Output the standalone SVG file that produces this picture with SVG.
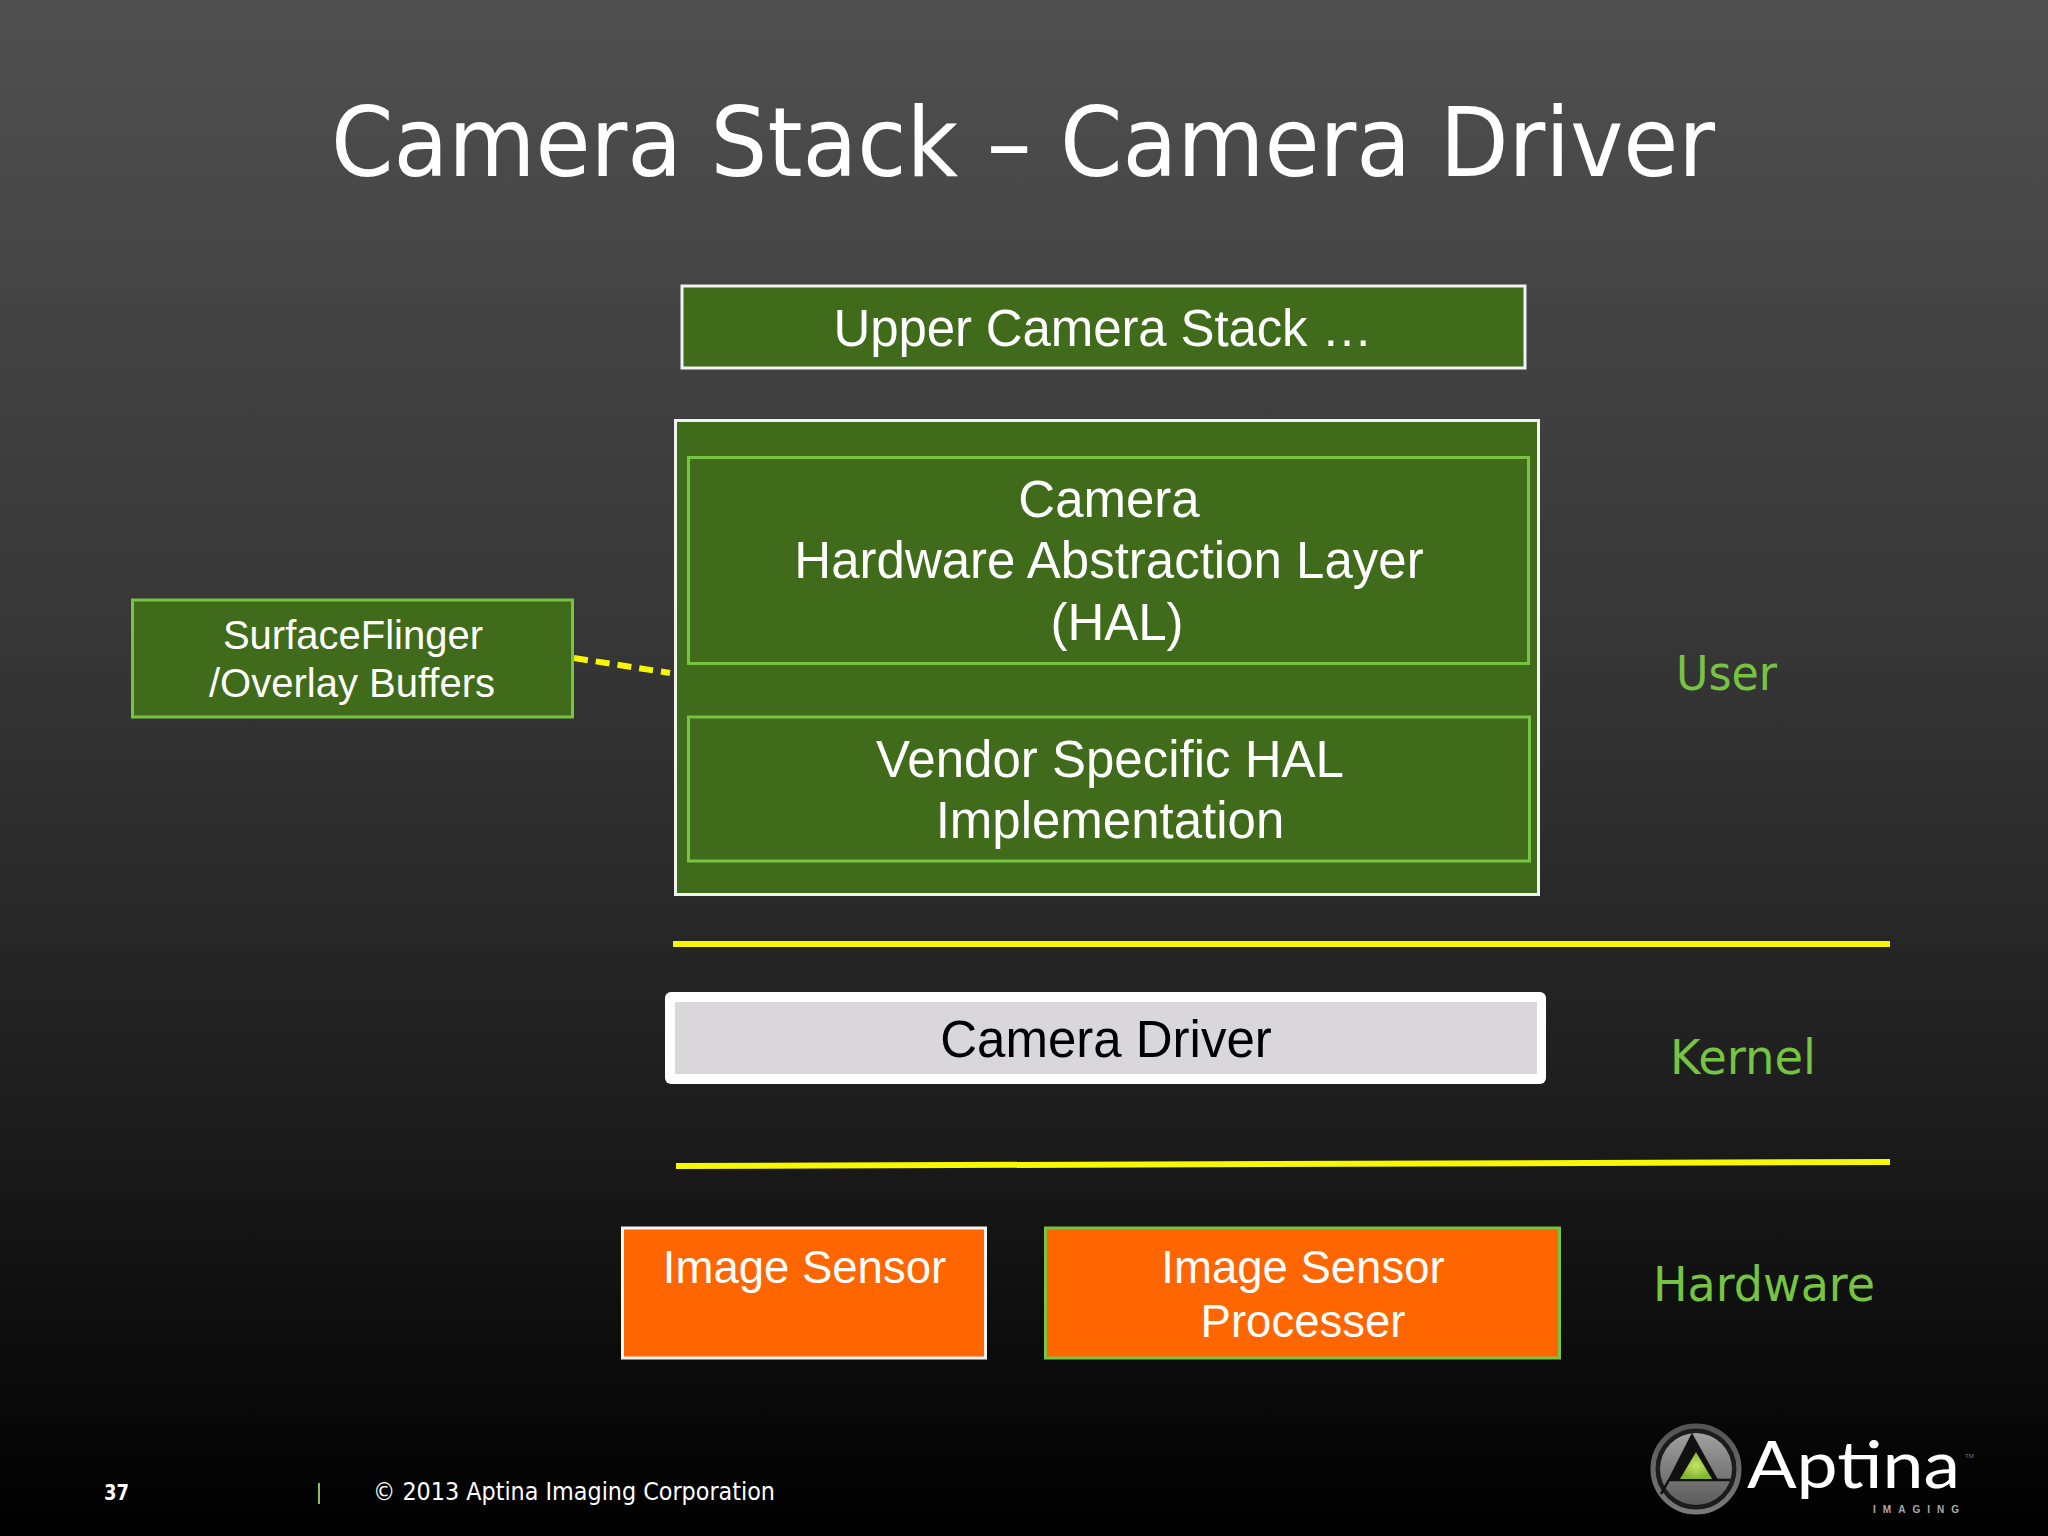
<svg xmlns="http://www.w3.org/2000/svg" width="2048" height="1536" viewBox="0 0 2048 1536">
<style>
.a{font-family:"Liberation Sans",Arial,sans-serif;fill:#fff;text-anchor:middle}
.t{font-family:"DejaVu Sans",Verdana,sans-serif}
.g{fill:#3f6b1a;stroke:#76c442;stroke-width:3}
.w{fill:#3f6b1a;stroke:#f2f2f2;stroke-width:3}
.o{fill:#ff6600;stroke-width:3}
.l{font-family:"DejaVu Sans",Verdana,sans-serif;fill:#76c442;font-size:48px}
.y{fill:none;stroke:#f7f700;stroke-width:6}
.m{font-size:51px}
.s{font-size:40px}
.i{font-size:45.500px}
</style>
<defs>
<linearGradient id="bg" x1="0" y1="0" x2="0" y2="1"><stop offset="0" stop-color="#505050"/><stop offset=".45" stop-color="#343434"/><stop offset=".7" stop-color="#1f1f1f"/><stop offset="1" stop-color="#000"/></linearGradient>
<linearGradient id="ring" x1="0" y1="0" x2="0" y2="1"><stop offset="0" stop-color="#555"/><stop offset="1" stop-color="#7a7a7a"/></linearGradient>
<linearGradient id="blade" x1="0" y1="0" x2="0" y2="1"><stop offset="0" stop-color="#a0a0a0"/><stop offset="1" stop-color="#5c5c5c"/></linearGradient>
<radialGradient id="tri"><stop offset="0" stop-color="#c4e56a"/><stop offset="1" stop-color="#83b52e"/></radialGradient>
</defs>
<rect width="2048" height="1536" fill="url(#bg)"/>
<text id="title" class="t" x="331" y="176" fill="#fff" font-size="96" textLength="1384" lengthAdjust="spacingAndGlyphs">Camera Stack – Camera Driver</text>
<g id="connectors">
<path class="y" d="M673 944H1890"/>
<path class="y" d="M676 1166L1890 1162"/>
<path class="y" d="M574 658L670 673" stroke-dasharray="14 8"/>
</g>
<g id="upper"><rect class="w" x="682" y="286" width="843" height="82"/><text class="a m" x="1103" y="346" textLength="539">Upper Camera Stack …</text></g>
<g id="hal-box"><rect class="w" x="675.500" y="420.500" width="863" height="474"/></g>
<g id="hal"><rect class="g" x="688.500" y="457.500" width="840" height="206"/>
<text class="a m" x="1109" y="517">Camera</text><text class="a m" x="1109" y="578">Hardware Abstraction Layer</text><text class="a m" x="1117" y="640">(HAL)</text></g>
<g id="vendor"><rect class="g" x="688.500" y="717" width="841" height="144"/>
<text class="a m" x="1110" y="777">Vendor Specific HAL</text><text class="a m" x="1110" y="838">Implementation</text></g>
<g id="surfaceflinger"><rect class="g" x="132.500" y="600" width="440" height="117"/>
<text class="a s" x="353" y="649">SurfaceFlinger</text><text class="a s" x="352" y="697">/Overlay Buffers</text></g>
<g id="driver"><rect x="665" y="992" width="881" height="92" rx="6" fill="#fff"/><rect x="675" y="1002" width="862" height="72" fill="#d9d7da"/>
<text class="a m" x="1106" y="1057" style="fill:#000">Camera Driver</text></g>
<g id="sensor"><rect class="o" stroke="#f4f4f4" x="622.500" y="1228" width="363" height="130"/><text class="a i" x="804.500" y="1283">Image Sensor</text></g>
<g id="isp"><rect class="o" stroke="#76c442" x="1045.500" y="1228" width="514" height="130"/><text class="a i" x="1303" y="1283">Image Sensor</text><text class="a i" x="1303" y="1337">Processer</text></g>
<g id="layers">
<text class="l" x="1676" y="690" textLength="101" lengthAdjust="spacingAndGlyphs">User</text>
<text class="l" x="1670" y="1074" textLength="146" lengthAdjust="spacingAndGlyphs">Kernel</text>
<text class="l" x="1653" y="1301" textLength="222" lengthAdjust="spacingAndGlyphs">Hardware</text>
</g>
<g id="footer">
<text x="104" y="1500" fill="#fff" font-family="DejaVu Sans,sans-serif" font-weight="700" font-size="21" textLength="25" lengthAdjust="spacingAndGlyphs">37</text>
<path d="M319 1483V1504" stroke="#8fbf4f" stroke-width="2"/>
<text x="373" y="1500" fill="#fff" font-family="DejaVu Sans,sans-serif" font-size="24" textLength="402" lengthAdjust="spacingAndGlyphs">© 2013 Aptina Imaging Corporation</text>
</g>
<g id="logo">
<circle cx="1696" cy="1469" r="43" fill="#1c1c1c" stroke="url(#ring)" stroke-width="5"/>
<circle cx="1696" cy="1469" r="36" fill="url(#blade)"/>
<path d="M1692 1435L1717 1480H1669Z" fill="#111" stroke="#111" stroke-width="2"/>
<path d="M1670 1480H1730M1669 1480L1661 1494" stroke="#111" stroke-width="2.500"/>
<path d="M1696 1452L1712 1479H1680Z" fill="url(#tri)"/>
<text x="1747" y="1488" fill="#fff" font-family="Lato,sans-serif" font-size="66" textLength="213" lengthAdjust="spacingAndGlyphs">Aptina</text>
<text x="1873" y="1513" fill="#aaa" font-family="Liberation Sans,sans-serif" font-weight="700" font-size="10" textLength="86">IMAGING</text>
<text x="1965" y="1458" fill="#777" font-family="Liberation Sans,sans-serif" font-size="6">TM</text>
</g>
</svg>
